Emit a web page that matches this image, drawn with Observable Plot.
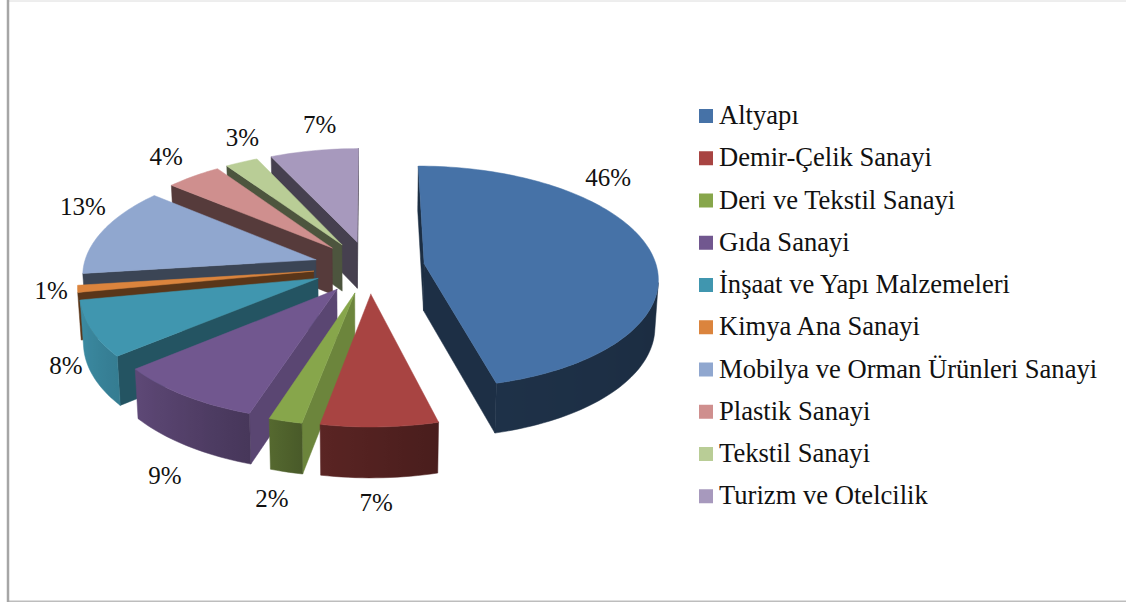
<!DOCTYPE html>
<html><head><meta charset="utf-8">
<style>html,body{margin:0;padding:0;background:#fff}svg{display:block}</style>
<script src="https://cdn.jsdelivr.net/npm/d3@7"></script>
<script src="https://cdn.jsdelivr.net/npm/@observablehq/plot@0.6"></script>
</head><body><div id="chart"></div>
<script>
const categories = ["Altyapı","Demir-Çelik Sanayi","Deri ve Tekstil Sanayi","Gıda Sanayi","İnşaat ve Yapı Malzemeleri","Kimya Ana Sanayi","Mobilya ve Orman Ürünleri Sanayi","Plastik Sanayi","Tekstil Sanayi","Turizm ve Otelcilik"];
const values = [46,7,2,9,8,1,13,4.4,2.6,7];
const topColors = ["#4672a7","#a84442","#87a64b","#71578f","#4096af","#db843d","#90a7cf","#cf8f8e","#b9cd96","#a799bd"];
// label offsets from the default spot just outside each slice
const labelDx = [-97,-6,7,24,36,34,31,4,23,15];
const labelDy = [-68.5,36.5,40.5,50.5,23.5,-2.5,-16.5,-3.5,-5.5,-5.5];

// pie geometry
const cx = 368.5, cy = 266.5, rx = 232.5, ry = 110, persp = 0.119, explode = 0.24, depth = 47, wallInset = 0.988;
const rad = d => d * Math.PI / 180;
const project = (u, v) => { const s = 1 / (1 - persp * v); return {x: cx + rx * u * s, y: cy + ry * v * s, s}; };
const lower = p => ({x: cx + (p.x - cx) * wallInset, y: p.y + depth * Math.sqrt(p.s)});
const rimShade = d3.scaleLinear([0,90,165,190,198,230,260,360],[.38,.38,.43,.53,.63,.83,.95,.95]);
const cutShade = d3.scaleLinear([0,165,185,200,230,259,360],[.4,.4,.8,.8,.56,.41,.42]);
const shade = (c, f) => { const r = d3.rgb(c); return d3.rgb(r.r*f, r.g*f, r.b*f).formatHex(); };

const total = d3.sum(values);
let cum = 0;
const slices = values.map((v, i) => {
  const a0 = cum / total * 360; cum += v; const a1 = cum / total * 360;
  const mid = (a0 + a1) / 2;
  return {i, v, a0, a1, mid, ou: explode * Math.sin(rad(mid)), ov: -explode * Math.cos(rad(mid))};
});
const rimPoint = (s, a, r = 1) => project(s.ou + r * Math.sin(rad(a)), s.ov - r * Math.cos(rad(a)));

const polys = [];
const gradients = [];
let pid = 0;
const pushPoly = (pts, color) => { pid++; for (const p of [...pts, pts[0]]) polys.push({id: pid, x: p.x, y: p.y, color}); };
const area = pts => d3.sum(pts, (p, k) => { const q = pts[(k + 1) % pts.length]; return p.x * q.y - q.x * p.y; });
const faces = (P, Q) => area([P, Q, lower(Q), lower(P)]) < 0;
const wall = (P, Q, color) => { if (faces(P, Q)) pushPoly([P, Q, lower(Q), lower(P)], color); };
// paint from the back of the pie to the front
const order = [9,8,7,6,5,4,3,2,1,0];
for (const k of order) {
  const s = slices[k], c = topColors[k];
  const apex = project(s.ou, s.ov);
  const n = Math.max(2, Math.ceil((s.a1 - s.a0) / 1.5));
  const angles = d3.range(n + 1).map(j => s.a0 + (s.a1 - s.a0) * j / n);
  const rim = angles.map(a => rimPoint(s, a));
  wall(apex, rim[0], shade(c, cutShade(s.a0)));
  wall(rim[n], apex, shade(c, cutShade(s.a1)));
  // the rim wall that faces the viewer is one polygon with a horizontal gradient
  const seen = d3.range(n + 1).filter(j => (j < n && faces(rim[j], rim[j + 1])) || (j > 0 && faces(rim[j - 1], rim[j])));
  if (seen.length > 1) {
    const top = seen.map(j => rim[j]);
    const xs = d3.extent(top, p => p.x);
    const id = `rim${k}`;
    gradients.push({id, x1: xs[0], x2: xs[1], stops: seen.map(j => ({
      offset: (rim[j].x - xs[0]) / (xs[1] - xs[0]),
      color: shade(c, rimShade(angles[j]))
    })).sort((a, b) => a.offset - b.offset)});
    pushPoly([...top, ...top.map(lower).reverse()], `url(#${id})`);
  }
  pushPoly([apex, ...rim], c);
}

const defs = () => {
  const d = d3.create("svg:defs");
  for (const g of gradients) {
    const lg = d.append("linearGradient").attr("id", g.id).attr("gradientUnits", "userSpaceOnUse")
      .attr("x1", g.x1).attr("x2", g.x2).attr("y1", 0).attr("y2", 0);
    for (const st of g.stops) lg.append("stop").attr("offset", st.offset).attr("stop-color", st.color);
  }
  return d.node();
};

const labels = slices.map(s => {
  const p = rimPoint(s, s.mid, 1.25);
  return {x: p.x + labelDx[s.i], y: p.y + labelDy[s.i], text: Math.round(s.v) + "%"};
});
const legend = categories.map((name, i) => ({name, color: topColors[i], y: 116 + i * 42.25}));
const font = "'Liberation Serif','Times New Roman',serif";

const chart = Plot.plot({
  width: 1126, height: 602, margin: 0,
  x: {domain: [0, 1126], range: [0, 1126], axis: null},
  y: {domain: [0, 602], range: [0, 602], axis: null},
  color: {type: "identity"},
  style: {background: "#fff", fontFamily: font},
  marks: [
    defs,
    Plot.ruleY([0.5], {x1: 8, x2: 1126, stroke: "#dcdcdc", strokeWidth: 1}),
    Plot.ruleY([601], {x1: 7, x2: 1126, stroke: "#bdbdbd", strokeWidth: 2}),
    Plot.ruleX([7.5], {y1: 0, y2: 602, stroke: "#a6a6a6", strokeWidth: 2.5}),
    Plot.line(polys, {x: "x", y: "y", z: "id", fill: "color", stroke: "color", strokeWidth: 0.5, curve: "linear"}),
    Plot.text(labels, {x: "x", y: "y", text: "text", fontSize: 25, fill: "#111", textAnchor: "middle", lineAnchor: "middle"}),
    Plot.rect(legend, {x1: 699, x2: 713, y1: d => d.y - 7, y2: d => d.y + 7, fill: "color"}),
    Plot.text(legend, {x: 718.5, y: d => d.y - 1, text: "name", fontSize: 26.6, fill: "#111", textAnchor: "start", lineAnchor: "middle"})
  ]
});
document.getElementById("chart").append(chart);
</script></body></html>
